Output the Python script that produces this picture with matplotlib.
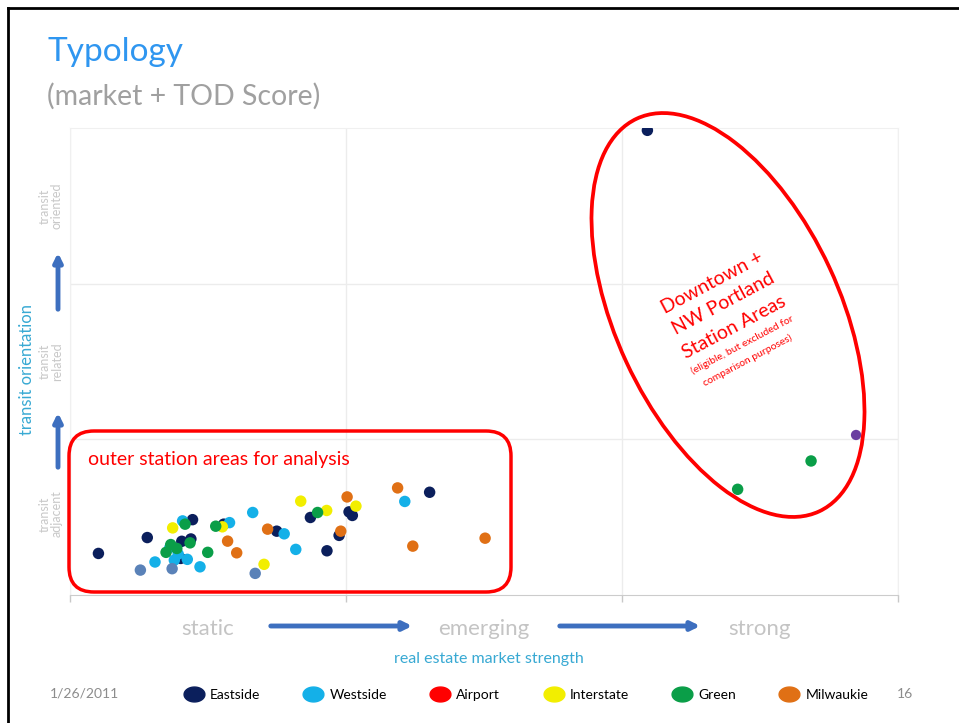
import matplotlib.pyplot as plt
from matplotlib.patches import Ellipse, FancyBboxPatch, FancyArrowPatch
from matplotlib.lines import Line2D
from matplotlib.path import Path
import numpy as np

plt.rcParams['font.family'] = ['Lato', 'DejaVu Sans']

# market strength (0-3) vs transit orientation (0-3) for each line
eastside_x = [0.103, 0.280, 0.444, 0.405, 0.438, 0.401, 0.557, 0.749, 0.871, 0.931, 1.011, 1.023, 0.975, 1.303, 2.092]
eastside_y = [0.267, 0.369, 0.484, 0.345, 0.360, 0.235, 0.455, 0.410, 0.498, 0.284, 0.534, 0.511, 0.383, 0.660, 2.985]
westside_x = [0.308, 0.408, 0.392, 0.378, 0.425, 0.471, 0.578, 0.662, 0.776, 0.818, 1.213, 0.362]
westside_y = [0.212, 0.476, 0.263, 0.224, 0.229, 0.181, 0.465, 0.530, 0.393, 0.293, 0.601, 0.306]
airport_x = []
airport_y = []
interstate_x = [0.372, 0.552, 0.703, 0.836, 0.930, 1.036]
interstate_y = [0.431, 0.438, 0.197, 0.603, 0.543, 0.571]
green_x = [0.417, 0.435, 0.365, 0.348, 0.387, 0.499, 0.528, 0.897, 2.419, 2.685]
green_y = [0.455, 0.335, 0.324, 0.274, 0.299, 0.274, 0.442, 0.530, 0.679, 0.861]
milwaukie_x = [0.571, 0.604, 0.716, 0.981, 1.004, 1.187, 1.242, 1.504]
milwaukie_y = [0.346, 0.271, 0.423, 0.410, 0.630, 0.688, 0.314, 0.365]
# stations shown without a legend entry
other_x = [0.255, 0.370, 0.671]
other_y = [0.160, 0.169, 0.139]
streetcar_x = [2.848]
streetcar_y = [1.028]

lines = ['Eastside', 'Westside', 'Airport', 'Interstate', 'Green', 'Milwaukie']
colors = ['#0b1f5c', '#14b0e8', '#ff0000', '#f2ee00', '#0a9e48', '#e07015']
market_labels = ['static', 'emerging', 'strong']
transit_labels = ['transit\nadjacent', 'transit\nrelated', 'transit\noriented']

W, H = 959, 723
fig = plt.figure(figsize=(W / 100, H / 100), dpi=100)


def px(x, y):
    return x / W, 1 - y / H


ax = fig.add_axes([70 / W, (H - 595) / H, (898 - 70) / W, (595 - 128) / H])
ax.set_xlim(0, 3)
ax.set_ylim(0, 3)

series = [(eastside_x, eastside_y), (westside_x, westside_y), (airport_x, airport_y),
          (interstate_x, interstate_y), (green_x, green_y), (milwaukie_x, milwaukie_y)]
for (xs, ys), c in zip(series, colors):
    if xs:
        ax.scatter(xs, ys, s=68, color=c, edgecolors='none', zorder=3)
ax.scatter(other_x, other_y, s=68, color='#5a82b8', edgecolors='none', zorder=3)
ax.scatter(streetcar_x, streetcar_y, s=55, color='#6a3fa0', edgecolors='none', zorder=3)

ax.set_xticks([0, 1, 2, 3])
ax.set_xticklabels([])
ax.set_yticks([1, 2])
ax.set_yticklabels([])
ax.tick_params(axis='x', length=5, color='#c8c8c8', width=1)
ax.tick_params(axis='y', length=0)
ax.grid(True, color='#ececec', lw=1)
ax.set_axisbelow(True)
for s in ['left', 'top', 'right']:
    ax.spines[s].set_color('#f0f0f0')
ax.spines['bottom'].set_color('#cccccc')

# category labels along both axes
for i, lab in enumerate(market_labels):
    ax.text(i + 0.5, -0.22, lab, ha='center', va='center', color='#c4c4c4', fontsize=16,
            transform=ax.transData, clip_on=False)
for i, lab in enumerate(transit_labels):
    ax.text(-0.07, i + 0.5 if i else 0.52, lab, ha='center', va='center', color='#c8c8c8', fontsize=9,
            rotation=90, linespacing=1.0, clip_on=False)

arrow_kw = dict(arrowstyle='-|>,head_length=0.5,head_width=0.25', color='#3d6fbf', lw=3.5,
                mutation_scale=10, transform=fig.transFigure)
for x0, x1 in [(268, 415), (557, 703)]:
    fig.add_artist(FancyArrowPatch(px(x0, 626), px(x1, 626), **arrow_kw))
for y0, y1 in [(470, 410), (312, 250)]:
    fig.add_artist(FancyArrowPatch(px(58, y0), px(58, y1), **arrow_kw))

fig.text(*px(489, 659), 'real estate market strength', ha='center', va='center',
         color='#38a9d3', fontsize=11.5)
fig.text(*px(27, 370), 'transit orientation', ha='center', va='center', rotation=90,
         color='#38a9d3', fontsize=12)

# title
fig.text(*px(47, 52), 'Typology', ha='left', va='center', color='#2f96f0', fontsize=24)
fig.text(*px(47, 96), '(market + TOD Score)', ha='left', va='center', color='#a0a0a0', fontsize=20.5)

# highlight shapes
box = FancyBboxPatch((0.69, (H - 592) / 100), 4.42, 1.61,
                     boxstyle='round,pad=0,rounding_size=0.25', transform=fig.dpi_scale_trans,
                     fill=False, ec='#ff0000', lw=2.5, zorder=5)
fig.add_artist(box)
fig.text(*px(88, 460), 'outer station areas for analysis', ha='left', va='center',
         color='#ff0000', fontsize=14)

oval = Ellipse((7.28, (H - 315) / 100), width=4.33, height=2.24, angle=-65.1,
               transform=fig.dpi_scale_trans, fill=False, ec='#ff0000', lw=2.7, zorder=5)
fig.add_artist(oval)
for (x, y), t, fs in [((712, 283), 'Downtown +', 14), ((723, 304), 'NW Portland', 14),
                      ((734, 327), 'Station Areas', 14),
                      ((742, 345), '(eligible, but excluded for', 7.5),
                      ((748, 360), 'comparison purposes)', 7.5)]:
    fig.text(*px(x, y), t, ha='center', va='center', rotation=28, rotation_mode='anchor',
             color='#ff0000', fontsize=fs)

# legend row and footer
oval_marker = Path(np.column_stack([1.4 * np.cos(np.linspace(0, 2 * np.pi, 60)),
                                    np.sin(np.linspace(0, 2 * np.pi, 60))]))
handles = [Line2D([], [], ls='none', marker=oval_marker, markersize=15, color=c, label=l)
           for l, c in zip(lines, colors)]
fig.legend(handles=handles, loc='center left', bbox_to_anchor=px(179, 695), ncol=6,
           frameon=False, fontsize=10, handlelength=1.3, handletextpad=0.5,
           columnspacing=3.2, borderaxespad=0)
fig.text(*px(50, 693), '1/26/2011', ha='left', va='center', color='#8c8c8c', fontsize=10)
fig.text(*px(905, 694), '16', ha='center', va='center', color='#8c8c8c', fontsize=10)

# slide frame
fig.add_artist(Line2D([8 / W, 8 / W], [0, 1 - 8 / H], color='black', lw=2, transform=fig.transFigure))
fig.add_artist(Line2D([8 / W, 1], [1 - 8 / H, 1 - 8 / H], color='black', lw=2, transform=fig.transFigure))

fig.savefig('out.png', dpi=100)
